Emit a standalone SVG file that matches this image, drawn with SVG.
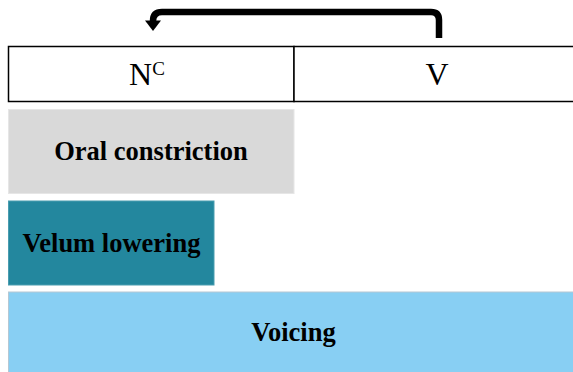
<svg xmlns="http://www.w3.org/2000/svg" width="573" height="372" viewBox="0 0 573 372">
<style>
.t{font-family:"Liberation Serif","Times New Roman",serif;fill:#000;text-anchor:middle}
.b{font-weight:bold;font-size:26.5px}
</style>
<rect width="573" height="372" fill="#fff"/>
<g id="connectors">
<path d="M439,38 V20 Q439,12 431,12 H162 Q153,12 153,21" fill="none" stroke="#000" stroke-width="6.5"/>
<polygon points="145,20.5 161,20.5 153,31" fill="#000"/>
</g>
<g id="node-nc">
<rect x="8.5" y="46.5" width="285.5" height="55" fill="#fff" stroke="#000" stroke-width="1.5"/>
<text class="t" x="147" y="85" font-size="32">N<tspan font-size="19" dy="-10">C</tspan></text>
</g>
<g id="node-v">
<rect x="294" y="46.5" width="285" height="55" fill="#fff" stroke="#000" stroke-width="1.5"/>
<text class="t" x="437" y="85" font-size="32">V</text>
</g>
<g id="node-oral">
<rect x="8.5" y="109.5" width="285.5" height="84" fill="#d9d9d9" stroke="#e6e6e6" stroke-width="1"/>
<text class="t b" x="151" y="160">Oral constriction</text>
</g>
<g id="node-velum">
<rect x="8.5" y="201" width="205.5" height="84" fill="#23879e" stroke="#4a9db0" stroke-width="1"/>
<text class="t b" x="111.5" y="252">Velum lowering</text>
</g>
<g id="node-voicing">
<rect x="8.5" y="292" width="570" height="85" fill="#88cff3" stroke="#b5c8d4" stroke-width="1"/>
<text class="t b" x="293.5" y="341">Voicing</text>
</g>
</svg>
